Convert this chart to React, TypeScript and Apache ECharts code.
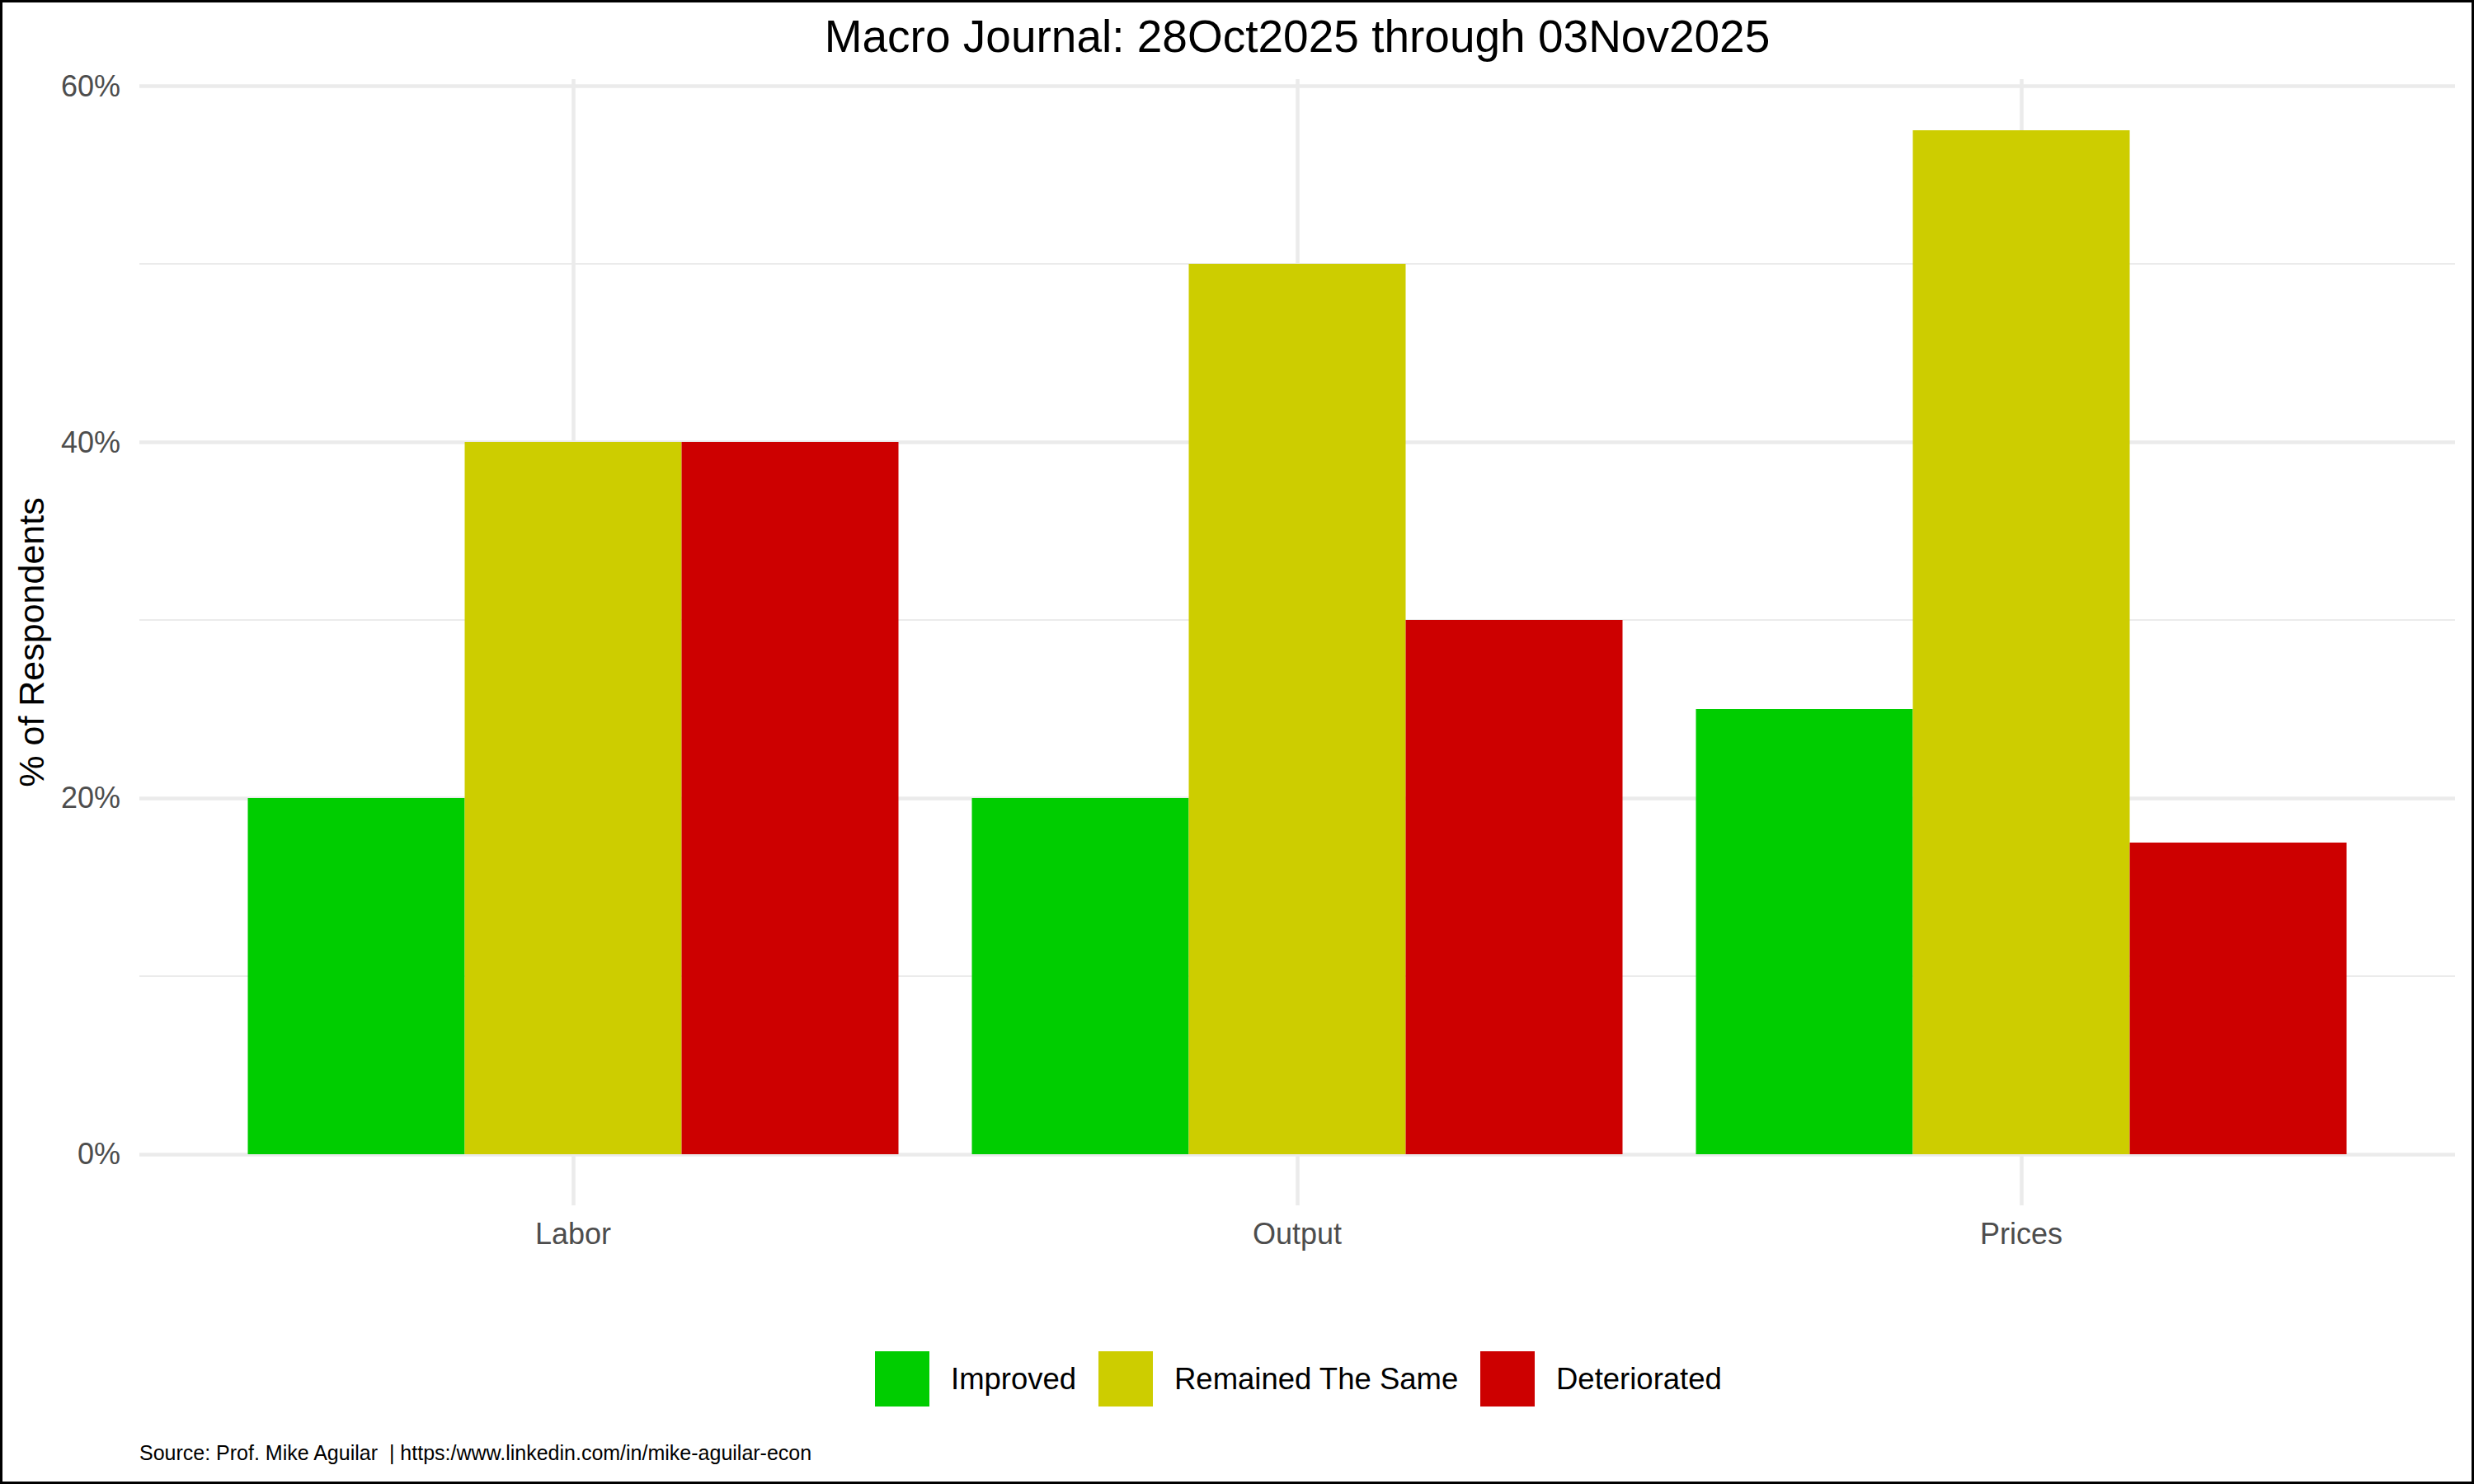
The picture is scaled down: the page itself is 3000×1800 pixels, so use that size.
import React, { useEffect, useRef } from "react";
import * as echarts from "echarts";

const categories = ["Labor", "Output", "Prices"];
const seriesNames = ["Improved", "Remained The Same", "Deteriorated"];
const improved = [20, 20, 25];
const remained = [40, 50, 57.5];
const deteriorated = [40, 30, 17.5];
const colors = ["#00CD00", "#CDCD00", "#CD0000"];
const yTicks = [0, 20, 40, 60];
const titleText = "Macro Journal: 28Oct2025 through 03Nov2025";
const yTitle = "% of Respondents";
const caption = "Source: Prof. Mike Aguilar  | https:/www.linkedin.com/in/mike-aguilar-econ";

const FONT = "Liberation Sans, Arial, Helvetica, sans-serif";

export default function App() {
  const ref = useRef<HTMLDivElement>(null);
  useEffect(() => {
    document.body.style.margin = "0";
    const chart = echarts.init(ref.current!, null, { renderer: "svg" });
    const values = [improved, remained, deteriorated];
    const legendLefts = [1061, 1332, 1795];
    const option: any = {
      animation: false,
      backgroundColor: "#ffffff",
      textStyle: { fontFamily: FONT },
      grid: [
        { left: 169, right: 23, top: 104.1, bottom: 400.1 },
        { left: 695, right: 549, top: 96, bottom: 338 },
      ],
      xAxis: [
        { gridIndex: 0, type: "value", show: false, min: 0, max: 1 },
        {
          gridIndex: 1,
          type: "category",
          data: categories,
          boundaryGap: false,
          axisLine: { show: false },
          axisTick: { show: false },
          axisLabel: { color: "#4D4D4D", fontSize: 36, margin: 16, fontFamily: FONT },
          splitLine: { show: true, lineStyle: { color: "#EBEBEB", width: 4.5 } },
        },
      ],
      yAxis: [
        {
          gridIndex: 0,
          type: "value",
          min: yTicks[0],
          max: yTicks[yTicks.length - 1],
          interval: 20,
          axisLine: { show: false },
          axisTick: { show: false },
          axisLabel: { color: "#4D4D4D", fontSize: 36, margin: 23, formatter: "{value}%", fontFamily: FONT },
          splitLine: { show: true, lineStyle: { color: "#EBEBEB", width: 4.5 } },
          minorTick: { show: false, splitNumber: 2 },
          minorSplitLine: { show: true, lineStyle: { color: "#EBEBEB", width: 2.2 } },
        },
        { gridIndex: 1, type: "value", min: -2.875, max: 60.375, show: false },
      ],
      legend: seriesNames.map((n, i) => ({
        data: [n],
        left: legendLefts[i],
        top: 1639,
        padding: 0,
        orient: "horizontal",
        icon: "rect",
        itemWidth: 66,
        itemHeight: 67,
        selectedMode: false,
        textStyle: { color: "#000000", fontSize: 36.5, fontFamily: FONT, padding: [0, 0, 0, 21] },
      })),
      series: seriesNames.map((n, i) => ({
        name: n,
        type: "bar",
        xAxisIndex: 1,
        yAxisIndex: 1,
        data: values[i],
        barWidth: 263,
        barGap: "0%",
        clip: false,
        itemStyle: { color: colors[i] },
      })),
      graphic: [
        {
          type: "rect",
          shape: { x: 1.5, y: 1.5, width: 2997, height: 1797 },
          style: { fill: "none", stroke: "#000000", lineWidth: 3 },
          z: 100,
        },
        {
          type: "text",
          x: 1573,
          y: 44,
          style: { text: titleText, fontSize: 55, fill: "#000000", align: "center", verticalAlign: "middle", fontFamily: FONT },
        },
        {
          type: "text",
          x: 38,
          y: 779,
          rotation: Math.PI / 2,
          style: { text: yTitle, fontSize: 43, fill: "#000000", align: "center", verticalAlign: "middle", fontFamily: FONT },
        },
        {
          type: "text",
          x: 169,
          y: 1762,
          style: { text: caption, fontSize: 25, fill: "#000000", align: "left", verticalAlign: "middle", fontFamily: FONT },
        },
      ],
    };
    chart.setOption(option);
    return () => chart.dispose();
  }, []);
  return <div ref={ref} style={{ width: 3000, height: 1800 }} />;
}
